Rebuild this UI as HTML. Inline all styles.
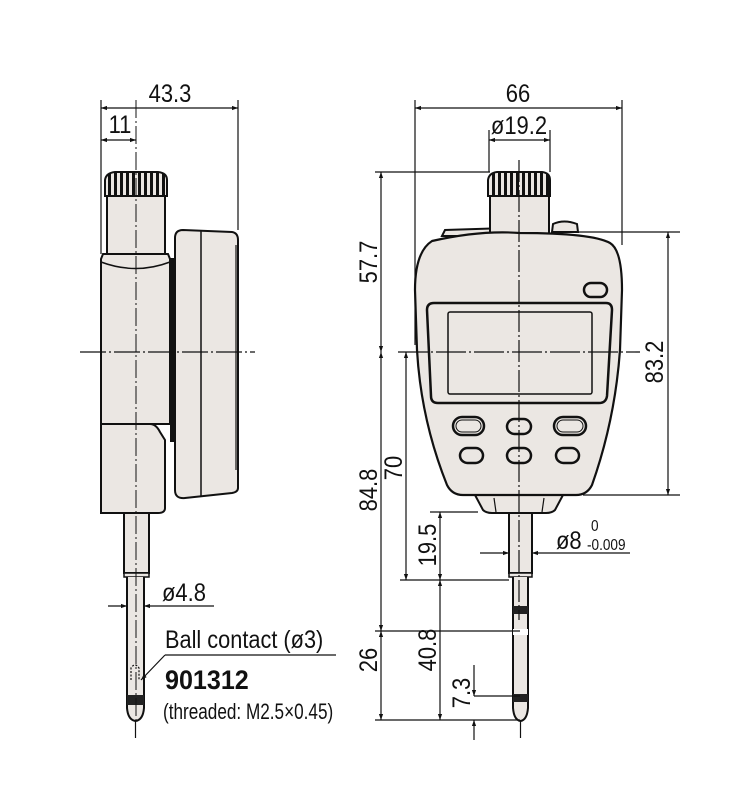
<!DOCTYPE html>
<html><head><meta charset="utf-8"><style>
html,body{margin:0;padding:0;background:#fff;}
svg{display:block}
text{font-family:"Liberation Sans Narrow","Liberation Sans",sans-serif;fill:#111}
</style></head><body>
<svg width="739" height="800" viewBox="0 0 739 800" xmlns="http://www.w3.org/2000/svg">
<defs>
<marker id="a" viewBox="0 0 10 10" refX="10" refY="5" markerWidth="10" markerHeight="6" orient="auto-start-reverse" markerUnits="userSpaceOnUse"><path d="M0,1.5 L10,5 L0,8.5Z" fill="#111"/></marker>
<pattern id="kn" width="6" height="30" patternUnits="userSpaceOnUse"><rect width="6" height="30" fill="#ebe7e3"/><rect width="3" height="30" fill="#111"/></pattern>
</defs>
<g stroke="#111" stroke-width="1.2" fill="none">
<path d="M175,238 Q175,230 183,230 L232,232 Q238,233 238,240 L238,488 Q238,492 232,493 L185,498 Q175,499 175,490 Z" fill="#ebe7e3" stroke-width="2"/>
<line x1="201" y1="231" x2="201" y2="497" stroke-width="1.5"/>
<line x1="236" y1="245" x2="236" y2="470"/>
<rect x="170" y="258" width="4" height="184" fill="#111" stroke="none"/>
<rect x="107" y="196" width="58" height="58" fill="#ebe7e3" stroke-width="2"/>
<path d="M105,196 L105,180 Q106,173 115,172 L158,172 Q167,173 167,180 L167,196 Z" fill="url(#kn)" stroke-width="2"/>
<path d="M101,259 L103,254 L168,254 L170,259 L170,424 L101,424 Z" fill="#ebe7e3" stroke-width="2"/>
<path d="M101,262 Q136,275 170,262" stroke-width="1.5"/>
<path d="M101,424 L150,424 Q156,424 160,432 L165,440 L165,508 Q165,513 158,513 L101,513 Z" fill="#ebe7e3" stroke-width="2"/>
<rect x="124" y="513" width="25" height="60" fill="#ebe7e3" stroke-width="2"/>
<rect x="124" y="573" width="25" height="4" fill="#ebe7e3" stroke-width="1.5"/>
<path d="M127,577 L127,708 Q128,720 135.5,721 Q143,720 144,708 L144,577" fill="#ebe7e3" stroke-width="2"/>
<rect x="127" y="695" width="17" height="10" fill="#222" stroke="none"/>
<path d="M131,680 L131,668 Q135,662 139,668 L139,680" stroke-dasharray="2,1.5"/>
<line x1="135.5" y1="721" x2="135.5" y2="738"/>
<line x1="136" y1="100" x2="136" y2="720" stroke-dasharray="18,3,2,3" stroke-width="1"/>
<line x1="80" y1="352" x2="255" y2="352" stroke-dasharray="26,3,2,3" stroke-width="1.3"/>
<line x1="101" y1="100" x2="101" y2="254"/>
<line x1="238" y1="100" x2="238" y2="230"/>
<line x1="101" y1="108" x2="238" y2="108" marker-start="url(#a)" marker-end="url(#a)"/>
<line x1="101" y1="140" x2="136" y2="140" marker-start="url(#a)" marker-end="url(#a)"/>
<line x1="108" y1="606" x2="127" y2="606" marker-end="url(#a)"/>
<line x1="214" y1="606" x2="144" y2="606" marker-end="url(#a)"/>
<line x1="165" y1="655" x2="336" y2="655"/>
<line x1="165" y1="655" x2="141" y2="680" marker-end="url(#a)"/>

<path d="M442,236 L445,230 L507,228 L507,236 Z" fill="#ebe7e3" stroke-width="2"/>
<path d="M552,232 L553,224 Q564,219 577,224 L578,232 Z" fill="#ebe7e3" stroke-width="2"/>
<rect x="490" y="196" width="59" height="40" fill="#ebe7e3" stroke-width="2"/>
<path d="M488,196 L488,180 Q489,173 497,172 L542,172 Q550,173 550,180 L550,196 Z" fill="url(#kn)" stroke-width="2"/>
<path d="M475,495 L563,495 L555,510 Q552,513 546,513 L492,513 Q486,513 483,510 Z" fill="#ebe7e3" stroke-width="2"/>
<line x1="494" y1="498" x2="496" y2="512"/><line x1="544" y1="498" x2="542" y2="512"/>
<path d="M432,241 Q480,230 520,233 Q592,233 610,243 Q622,250 622,290 L620,350 Q615,420 592,485 Q587,495 576,495 L463,495 Q452,495 447,485 Q421,420 417,350 L415,290 Q415,252 432,241 Z" fill="#ebe7e3" stroke-width="2.2"/>
<path d="M427,310 Q427,303 434,303 L606,303 Q612,303 612,310 L607,396 Q606,403 599,403 L438,403 Q431,403 431,396 Z" stroke-width="2.5"/>
<rect x="448" y="312" width="144" height="82" rx="2" stroke-width="1.5"/>
<rect x="584" y="283" width="23" height="14" rx="7" stroke-width="2.5"/>
<rect x="453" y="417" width="31" height="18" rx="9" stroke-width="2.5"/>
<rect x="456" y="420" width="25" height="12" rx="6" stroke-width="1"/>
<rect x="507" y="419" width="24" height="15" rx="7.5" stroke-width="2.5"/>
<rect x="554" y="417" width="32" height="18" rx="9" stroke-width="2.5"/>
<rect x="557" y="420" width="26" height="12" rx="6" stroke-width="1"/>
<rect x="460" y="448" width="23" height="15" rx="7.5" stroke-width="2.5"/>
<rect x="507" y="448" width="24" height="15" rx="7.5" stroke-width="2.5"/>
<rect x="556" y="448" width="23" height="15" rx="7.5" stroke-width="2.5"/>
<rect x="509" y="513" width="23" height="60" fill="#ebe7e3" stroke-width="2"/>
<rect x="509" y="573" width="23" height="4" fill="#ebe7e3" stroke-width="1.5"/>
<path d="M513,577 L513,708 Q514,720 520.5,721 Q527,720 528,708 L528,577" fill="#ebe7e3" stroke-width="2"/>
<rect x="513" y="606" width="15" height="8" fill="#222" stroke="none"/>
<rect x="513" y="694" width="15" height="8" fill="#222" stroke="none"/>
<line x1="513" y1="632" x2="528" y2="632" stroke="#fff" stroke-width="6"/>
<line x1="520.5" y1="721" x2="520.5" y2="738"/>
<line x1="519" y1="160" x2="519" y2="620" stroke-dasharray="22,3,2,3" stroke-width="1.2"/>
<line x1="398" y1="352" x2="640" y2="352" stroke-dasharray="30,3,2,3" stroke-width="1.3"/>
<line x1="415" y1="100" x2="415" y2="345"/>
<line x1="622" y1="100" x2="622" y2="245"/>
<line x1="415" y1="108" x2="622" y2="108" marker-start="url(#a)" marker-end="url(#a)"/>
<line x1="489" y1="130" x2="489" y2="172"/>
<line x1="550" y1="130" x2="550" y2="172"/>
<line x1="489" y1="140" x2="550" y2="140" marker-start="url(#a)" marker-end="url(#a)"/>
<line x1="375" y1="172" x2="490" y2="172"/>
<line x1="381" y1="172" x2="381" y2="352" marker-start="url(#a)" marker-end="url(#a)"/>
<line x1="381" y1="352" x2="381" y2="631" marker-start="url(#a)" marker-end="url(#a)"/>
<line x1="381" y1="631" x2="381" y2="720" marker-start="url(#a)" marker-end="url(#a)"/>
<line x1="375" y1="631" x2="520" y2="631"/>
<line x1="375" y1="720" x2="520" y2="720"/>
<line x1="406" y1="352" x2="406" y2="580" marker-start="url(#a)" marker-end="url(#a)"/>
<line x1="400" y1="580" x2="509" y2="580"/>
<line x1="430" y1="512" x2="478" y2="512"/>
<line x1="440" y1="512" x2="440" y2="580" marker-start="url(#a)" marker-end="url(#a)"/>
<line x1="440" y1="580" x2="440" y2="720" marker-start="url(#a)" marker-end="url(#a)"/>
<line x1="474" y1="696" x2="520" y2="696"/>
<line x1="474" y1="665" x2="474" y2="696" marker-end="url(#a)"/>
<line x1="474" y1="740" x2="474" y2="720" marker-end="url(#a)"/>
<line x1="480" y1="553" x2="509" y2="553" marker-end="url(#a)"/>
<line x1="630" y1="553" x2="532" y2="553" marker-end="url(#a)"/>
<line x1="578" y1="232" x2="680" y2="232"/>
<line x1="583" y1="495" x2="680" y2="495"/>
<line x1="668" y1="232" x2="668" y2="495" marker-start="url(#a)" marker-end="url(#a)"/>
</g>
<g font-size="25">
<text transform="translate(170,102) scale(0.88,1)" text-anchor="middle">43.3</text>
<text transform="translate(120,133) scale(0.88,1)" text-anchor="middle">11</text>
<text transform="translate(162,601) scale(0.88,1)">ø4.8</text>
<text transform="translate(165,648) scale(0.87,1)" font-size="25">Ball contact (ø3)</text>
<text transform="translate(165,689) scale(0.93,1)" font-size="27" font-weight="bold">901312</text>
<text transform="translate(163,719) scale(0.78,1)" font-size="22">(threaded: M2.5×0.45)</text>
<text transform="translate(518,102) scale(0.88,1)" text-anchor="middle">66</text>
<text transform="translate(519,134) scale(0.88,1)" text-anchor="middle">ø19.2</text>
<text transform="translate(556,549) scale(0.88,1)">ø8</text>
<text transform="translate(591,531) scale(0.85,1)" font-size="16">0</text>
<text transform="translate(587,550) scale(0.85,1)" font-size="16">-0.009</text>
<text transform="translate(377,262) rotate(-90) scale(0.88,1)" text-anchor="middle">57.7</text>
<text transform="translate(377,490) rotate(-90) scale(0.88,1)" text-anchor="middle">84.8</text>
<text transform="translate(377,660) rotate(-90) scale(0.88,1)" text-anchor="middle">26</text>
<text transform="translate(402,468) rotate(-90) scale(0.88,1)" text-anchor="middle">70</text>
<text transform="translate(436,545) rotate(-90) scale(0.88,1)" text-anchor="middle">19.5</text>
<text transform="translate(436,650) rotate(-90) scale(0.88,1)" text-anchor="middle">40.8</text>
<text transform="translate(470,693) rotate(-90) scale(0.88,1)" text-anchor="middle">7.3</text>
<text transform="translate(663,362) rotate(-90) scale(0.88,1)" text-anchor="middle">83.2</text>
</g>
</svg>
</body></html>
